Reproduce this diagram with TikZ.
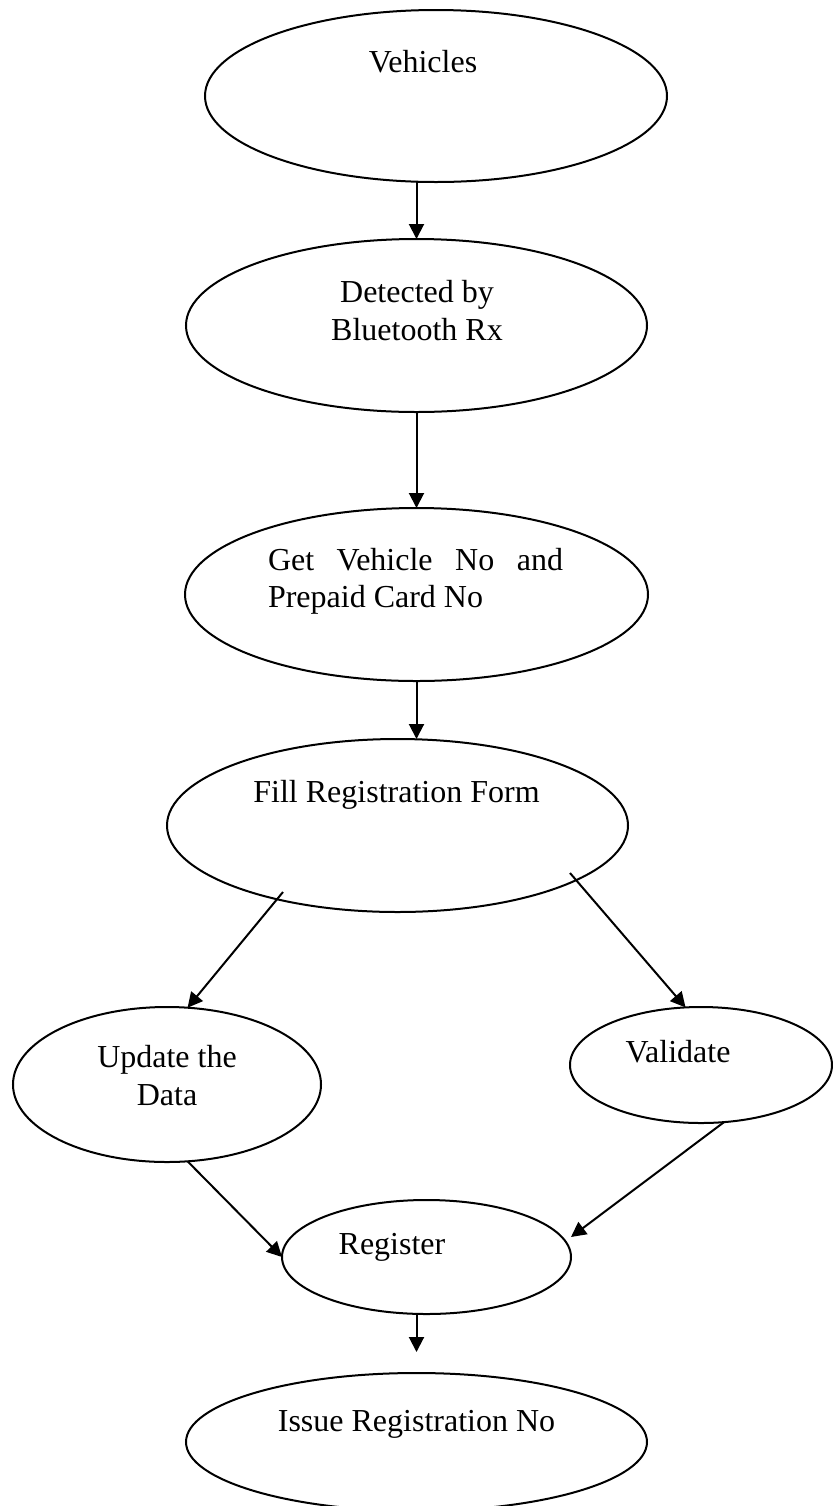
\documentclass[tikz,border=0pt]{standalone}
\usepackage{fontspec}
\setmainfont{Liberation Serif}
\usetikzlibrary{shapes.geometric,arrows.meta,calc}

\tikzset{
  stage/.style={ellipse, draw, line width=1pt, inner sep=0pt, outer sep=0pt},
  caption/.style={inner sep=0pt, outer sep=0pt, font=\fontsize{16}{18.5}\selectfont},
  flow/.style={line width=1pt, -{Triangle[length=7.5pt,width=7.5pt]}}
}

\begin{document}
\begin{tikzpicture}[x=0.5pt,y=-0.5pt]
\useasboundingbox (0,0) rectangle (832,1506);

% process stages
\node[stage, minimum width=231pt,   minimum height=86pt]   (veh) at (436,96) {};
\node[stage, minimum width=230.5pt, minimum height=86.5pt] (det) at (416.5,325.5) {};
\node[stage, minimum width=231.5pt, minimum height=86.5pt] (get) at (416.5,594.5) {};
\node[stage, minimum width=230.5pt, minimum height=86.5pt] (fill) at (397.5,825.5) {};
\node[stage, minimum width=154pt,   minimum height=77.5pt] (upd) at (167,1084.5) {};
\node[stage, minimum width=131pt,   minimum height=58pt]   (val) at (701,1065) {};
\node[stage, minimum width=144.5pt, minimum height=57pt]   (reg) at (426.5,1257) {};
\node[stage, minimum width=230.5pt, minimum height=69pt]   (iss) at (416.5,1442) {};

% stage captions
\node[caption, anchor=base] (tveh) at (423,72) {Vehicles};
\node[caption, anchor=base] (tdet1) at (417,302) {Detected by};
\node[caption, anchor=base] (tdet2) at (417,340) {Bluetooth Rx};
\node[caption, anchor=base west] (tget1) at (268,570) {\makebox[147.5pt][s]{Get Vehicle No and}};
\node[caption, anchor=base west] (tget2) at (268,607) {Prepaid Card No};
\node[caption, anchor=base] (tfill) at (396.5,802) {Fill Registration Form};
\node[caption, anchor=base] (tupd1) at (167,1067) {Update the};
\node[caption, anchor=base] (tupd2) at (167,1105) {Data};
\node[caption, anchor=base] (tval) at (678,1062) {Validate};
\node[caption, anchor=base] (treg) at (392,1254) {Register};
\node[caption, anchor=base] (tiss) at (416.5,1431) {Issue Registration No};

% connectors
\draw[flow] (veh.south -| det.north) -- (det.north);
\draw[flow] (det.south) -- (get.north);
\draw[flow] (get.south) -- (get.south |- fill.north);
\draw[flow] ($(fill.center)+(-114.5,66.5)$) -- (upd.75.4);
\draw[flow] ($(fill.center)+(172.5,47.5)$) -- (val.105.5);
\draw[flow] (upd.-75.4) -- (reg.west);
\draw[flow] (val.-68) -- ($(reg.center)+(144.5,-20)$);
\draw[flow] (reg.south -| iss.north) -- ($(iss.north)+(0,-21)$);
\end{tikzpicture}
\end{document}
